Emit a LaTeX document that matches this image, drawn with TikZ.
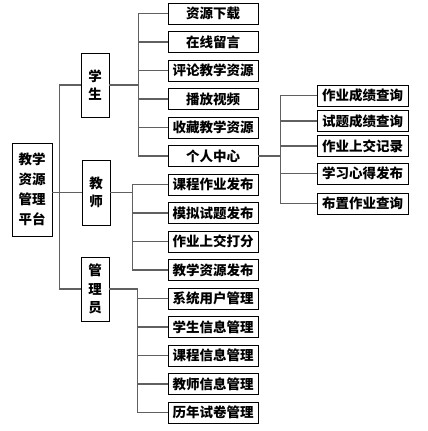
\documentclass[tikz,border=0pt]{standalone}
\usepackage{fontspec}
\setmainfont{Noto Sans CJK SC}
\usetikzlibrary{positioning,calc}

\begin{document}
\begin{tikzpicture}[x=1pt,y=-1pt,
  box/.style={draw=black,line width=0.9pt,fill=white,inner sep=0pt,align=center,font=\fontsize{13.5}{18.5}\selectfont\bfseries},
  leaf/.style={box,minimum width=90pt,minimum height=21pt},
  role/.style={box,minimum width=28pt,minimum height=64pt},
  link/.style={draw=gray!75!black,line width=1.3pt}]
  \useasboundingbox (0,0) rectangle (428,431);
  % platform and the three roles
  \node[box,minimum width=40pt,minimum height=93pt,font=\fontsize{13.5}{20}\selectfont\bfseries] (root) at (32,189.5) {教学\\资源\\管理\\平台};
  \node[role] (stu) at (95,85) {学\\生};
  \node[role,minimum height=65pt] (tea) at (96,192.5) {教\\师};
  \node[role] (adm) at (95,289) {管\\理\\员};
  % functions, one row every 28.5pt
  \foreach \name/\txt [count=\i from 0] in {s1/资源下载,s2/在线留言,s3/评论教学资源,s4/播放视频,s5/收藏教学资源,s6/个人中心,
      t1/课程作业发布,t2/模拟试题发布,t3/作业上交打分,t4/教学资源发布,
      a1/系统用户管理,a2/学生信息管理,a3/课程信息管理,a4/教师信息管理,a5/历年试卷管理}
    \node[leaf] (\name) at (213,{13.5+28.5*\i}) {\txt};
  % personal centre
  \foreach \name/\txt/\y in {p1/作业成绩查询/95.5,p2/试题成绩查询/121,p3/作业上交记录/146,p4/学习心得发布/173.5,p5/布置作业查询/203.5}
    \node[leaf,minimum width=91pt] (\name) at (362.5,\y) {\txt};
  % links
  \draw[link] (stu.west) -- ++(-21,0) |- (adm.west);
  \draw[link] (root.east |- tea.west) -- (tea.west);
  \foreach \i in {1,...,6}
    \draw[link] (stu.east) -- ++(29,0) |- (s\i.west);
  \foreach \i in {1,...,4}
    \draw[link] (tea.east) -- ++(22,0) |- (t\i.west);
  \foreach \i in {1,...,5}
    \draw[link] (adm.east) -- ++(28,0) |- (a\i.west);
  \foreach \i in {1,...,5}
    \draw[link] (s6.east) -- ++(22,0) |- (p\i.west);
\end{tikzpicture}
\end{document}
